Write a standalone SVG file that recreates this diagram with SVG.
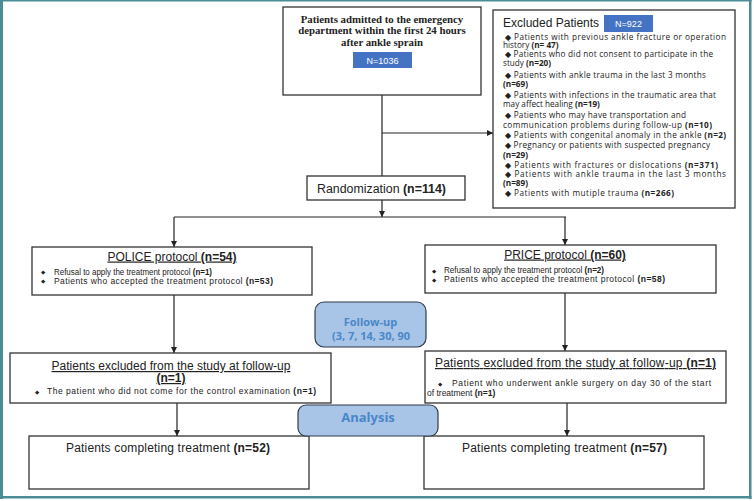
<svg xmlns="http://www.w3.org/2000/svg" width="754" height="501" viewBox="0 0 754 501">
<style>
.box{fill:#fff;stroke:#333;stroke-width:1.3}
.rbox{fill:#a8c4e6;stroke:#2f3d4c;stroke-width:1.2}
.con{stroke:#222;stroke-width:1.2;fill:none}
.ser{font-family:"Liberation Serif",serif;font-weight:bold;font-size:10.8px;fill:#222}
.sans{font-family:"Liberation Sans",Arial,sans-serif;fill:#222}
.t12{font-size:12px}
.t8{font-size:8.5px}
.dia{font-family:"DejaVu Sans",sans-serif;font-size:5.5px;fill:#222}
.ex{font-family:"Open Sans","Liberation Sans",sans-serif;font-size:8.2px;fill:#222}
.b{font-weight:bold}
.nbox{fill:#4573c4}
.ntxt{font-family:"Liberation Sans Narrow","Liberation Sans",sans-serif;font-size:9px;fill:#fff}
.blue{font-family:"Open Sans","Liberation Sans",sans-serif;font-weight:bold;fill:#4a87c9}
</style>
<defs>
<marker id="arr" viewBox="0 0 10 10" refX="10" refY="5" markerWidth="6" markerHeight="6" orient="auto" markerUnits="userSpaceOnUse">
<path d="M0,0 L10,5 L0,10 z" fill="#222"/>
</marker>
</defs>
<rect x="0" y="0" width="754" height="501" fill="#fff"/>
<g id="frame">
<rect x="0" y="0" width="3" height="499" fill="#4b8c95"/>
<rect x="0" y="0" width="751.5" height="1.5" fill="#4b8c95"/>
<rect x="749" y="0" width="2.5" height="499" fill="#4b8c95"/>
<rect x="0" y="496" width="751.5" height="2.5" fill="#4b8c95"/>
</g>
<g id="connectors">
<line class="con" x1="382" y1="95" x2="382" y2="176"/>
<line class="con" x1="382" y1="133" x2="493" y2="133" marker-end="url(#arr)"/>
<line class="con" x1="382" y1="200" x2="382" y2="217" marker-end="url(#arr)"/>
<line class="con" x1="174" y1="217" x2="566" y2="217"/>
<line class="con" x1="174" y1="217" x2="174" y2="247" marker-end="url(#arr)"/>
<line class="con" x1="565" y1="217" x2="565" y2="245" marker-end="url(#arr)"/>
<line class="con" x1="174" y1="295" x2="174" y2="353" marker-end="url(#arr)"/>
<line class="con" x1="565" y1="293" x2="565" y2="351" marker-end="url(#arr)"/>
<line class="con" x1="177" y1="403" x2="177" y2="436" marker-end="url(#arr)"/>
<line class="con" x1="567" y1="403" x2="567" y2="436" marker-end="url(#arr)"/>
</g>
<g id="admitted">
<rect class="box" x="283" y="7" width="198" height="88"/>
<text class="ser" x="382" y="23" text-anchor="middle">Patients admitted to the emergency</text>
<text class="ser" x="382" y="34" text-anchor="middle">department within the first 24 hours</text>
<text class="ser" x="382" y="45.5" text-anchor="middle">after ankle sprain</text>
<rect class="nbox" x="353" y="52" width="59" height="16"/>
<text class="ntxt" x="382.5" y="63.5" text-anchor="middle">N=1036</text>
</g>
<g id="excluded">
<rect class="box" x="493" y="10" width="242" height="198"/>
<text class="sans" x="503" y="27" font-size="12">Excluded Patients</text>
<rect class="nbox" x="604" y="15" width="49" height="17"/>
<text class="ntxt" x="628.5" y="27" text-anchor="middle">N=922</text>
<text class="ex" x="505" y="39.5" textLength="221" lengthAdjust="spacing">◆ Patients with previous ankle fracture or operation</text>
<text class="ex" x="503" y="47.5">history <tspan class="b">(n= 47)</tspan></text>
<text class="ex" x="505" y="56.5" textLength="208" lengthAdjust="spacing">◆ Patients who did not consent to participate in the</text>
<text class="ex" x="503" y="66">study <tspan class="b">(n=20)</tspan></text>
<text class="ex" x="505" y="77.5" textLength="201" lengthAdjust="spacing">◆ Patients with ankle trauma in the last 3 months</text>
<text class="ex b" x="503" y="87">(n=69)</text>
<text class="ex" x="505" y="97.5" textLength="211" lengthAdjust="spacing">◆ Patients with infections in the traumatic area that</text>
<text class="ex" x="503" y="107">may affect healing <tspan class="b">(n=19)</tspan></text>
<text class="ex" x="505" y="118" textLength="181" lengthAdjust="spacing">◆ Patients who may have transportation and</text>
<text class="ex" x="503" y="128" textLength="209" lengthAdjust="spacing">communication problems during follow-up <tspan class="b">(n=10)</tspan></text>
<text class="ex" x="505" y="138" textLength="221" lengthAdjust="spacing">◆ Patients with congenital anomaly in the ankle <tspan class="b">(n=2)</tspan></text>
<text class="ex" x="505" y="148" textLength="205" lengthAdjust="spacing">◆ Pregnancy or patients with suspected pregnancy</text>
<text class="ex b" x="503" y="157.5">(n=29)</text>
<text class="ex" x="505" y="167.5" textLength="213" lengthAdjust="spacing">◆  Patients with fractures or dislocations <tspan class="b">(n=371)</tspan></text>
<text class="ex" x="505" y="176.5" textLength="221" lengthAdjust="spacing">◆ Patients with ankle trauma in the last 3 months</text>
<text class="ex b" x="503" y="185.5">(n=89)</text>
<text class="ex" x="505" y="196" textLength="169" lengthAdjust="spacing">◆  Patients with mutiple trauma <tspan class="b">(n=266)</tspan></text>
</g>
<g id="randomization">
<rect class="box" x="307" y="176" width="158" height="24"/>
<text class="sans t12" x="317" y="193" textLength="129" lengthAdjust="spacingAndGlyphs">Randomization <tspan class="b">(n=114)</tspan></text>
</g>
<g id="police">
<rect class="box" x="32" y="247" width="280" height="48"/>
<text class="sans t12" x="172" y="260.5" text-anchor="middle" text-decoration="underline">POLICE protocol <tspan class="b">(n=54)</tspan></text>
<text class="dia" x="41" y="274">◆</text>
<text class="sans t8" x="54" y="274.5" textLength="158" lengthAdjust="spacingAndGlyphs">Refusal to apply the treatment protocol <tspan class="b">(n=1)</tspan></text>
<text class="dia" x="41" y="283">◆</text>
<text class="sans t8" x="54" y="283.5" textLength="219" lengthAdjust="spacing">Patients who accepted the treatment protocol <tspan class="b">(n=53)</tspan></text>
</g>
<g id="price">
<rect class="box" x="425" y="245" width="291" height="48"/>
<text class="sans t12" x="565" y="258.5" text-anchor="middle" text-decoration="underline">PRICE protocol <tspan class="b">(n=60)</tspan></text>
<text class="dia" x="432" y="272.5">◆</text>
<text class="sans t8" x="444" y="273" textLength="160" lengthAdjust="spacingAndGlyphs">Refusal to apply the treatment protocol <tspan class="b">(n=2)</tspan></text>
<text class="dia" x="432" y="281.5">◆</text>
<text class="sans t8" x="444" y="282" textLength="221" lengthAdjust="spacing">Patients who accepted the treatment protocol <tspan class="b">(n=58)</tspan></text>
</g>
<g id="followup">
<rect class="rbox" x="315" y="302" width="111" height="45" rx="9" ry="9"/>
<text class="blue" x="370.5" y="326" font-size="11" text-anchor="middle">Follow-up</text>
<text class="blue" x="371" y="340" font-size="11" text-anchor="middle">(3, 7, 14, 30, 90</text>
</g>
<g id="excluded-left">
<rect class="box" x="10" y="353" width="321" height="50"/>
<text class="sans t12" x="171" y="370" text-anchor="middle" text-decoration="underline">Patients excluded from the study at follow-up</text>
<text class="sans t12 b" x="171" y="382" text-anchor="middle" text-decoration="underline">(n=1)</text>
<text class="dia" x="35" y="393.5">◆</text>
<text class="sans t8" x="47" y="394" textLength="269" lengthAdjust="spacing">The patient who did not come for the control examination <tspan class="b">(n=1)</tspan></text>
</g>
<g id="excluded-right">
<rect class="box" x="425" y="351" width="301" height="52"/>
<text class="sans t12" x="435" y="367" textLength="281" lengthAdjust="spacing" text-decoration="underline">Patients excluded from the study at follow-up <tspan class="b">(n=1)</tspan></text>
<text class="dia" x="438" y="385.5">◆</text>
<text class="sans t8" x="452" y="386" textLength="259" lengthAdjust="spacing">Patient who underwent ankle surgery on day 30 of the start</text>
<text class="sans t8" x="427" y="396">of treatment <tspan class="b">(n=1)</tspan></text>
</g>
<g id="final-left">
<rect class="box" x="29" y="436" width="280" height="53"/>
<text class="sans t12" x="66" y="452" textLength="204" lengthAdjust="spacing">Patients completing treatment <tspan class="b">(n=52)</tspan></text>
</g>
<g id="final-right">
<rect class="box" x="424" y="436" width="280" height="53"/>
<text class="sans t12" x="462" y="452" textLength="205" lengthAdjust="spacing">Patients completing treatment <tspan class="b">(n=57)</tspan></text>
</g>
<g id="analysis">
<rect class="rbox" x="298" y="405" width="140" height="31" rx="8" ry="8"/>
<text class="blue" x="368" y="422" font-size="13" text-anchor="middle">Analysis</text>
</g>
</svg>
